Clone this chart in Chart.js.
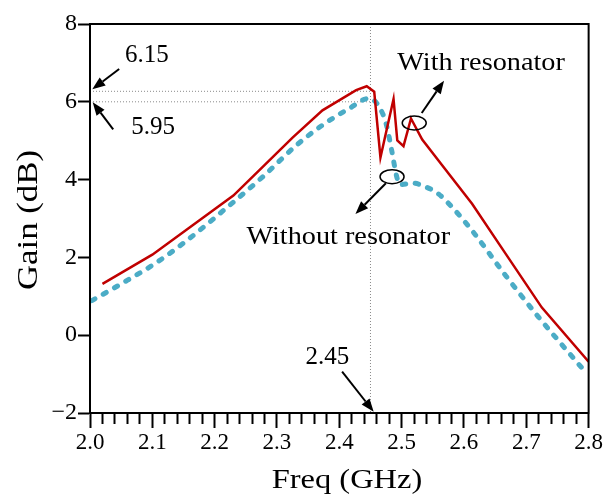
<!DOCTYPE html>
<html>
<head>
<meta charset="utf-8">
<script src="https://cdn.jsdelivr.net/npm/chart.js@4.4.0/dist/chart.umd.min.js"></script>
<style>
  html, body { margin: 0; padding: 0; background: #fff; }
  #wrap { width: 604px; height: 499px; }
</style>
</head>
<body>
<div id="wrap"><canvas id="gainChart" width="604" height="499"></canvas></div>
<script>
// gain with the resonator (solid red)
const freqWith = [2.02, 2.10, 2.23, 2.28, 2.325, 2.373, 2.427, 2.444, 2.456, 2.466, 2.487, 2.493, 2.503, 2.515, 2.533, 2.56, 2.613, 2.667, 2.725, 2.80];
const gainWith = [1.32, 2.07, 3.59, 4.37, 5.08, 5.78, 6.30, 6.40, 6.26, 4.57, 6.07, 5.01, 4.86, 5.57, 5.03, 4.47, 3.38, 2.09, 0.71, -0.68];

// gain without the resonator (dashed blue)
const freqWithout = [2.003, 2.048, 2.107, 2.155, 2.224, 2.277, 2.331, 2.373, 2.416, 2.448, 2.464, 2.475, 2.485, 2.491, 2.497, 2.517, 2.539, 2.56, 2.581, 2.613, 2.667, 2.72, 2.795];
const gainWithout = [0.89, 1.30, 1.87, 2.43, 3.34, 4.07, 4.88, 5.40, 5.83, 6.09, 5.87, 5.44, 4.67, 4.15, 3.87, 3.91, 3.81, 3.62, 3.29, 2.69, 1.53, 0.46, -0.95];

const xTickLabels = ['2.0', '2.1', '2.2', '2.3', '2.4', '2.5', '2.6', '2.7', '2.8'];
const yTickValues = [-2, 0, 2, 4, 6, 8];

// reference lines
const refFreq = 2.45;
const refGains = [6.27, 6.0];

// annotations, in data coordinates
const notes = [
  { text: '6.15', x: 2.056, y: 7.20, align: 'left', stretch: 1 },
  { text: '5.95', x: 2.066, y: 5.33, align: 'left', stretch: 1 },
  { text: '2.45', x: 2.381, y: -0.57, align: 'center', stretch: 1 },
  { text: 'With resonator', x: 2.493, y: 6.99, align: 'left', stretch: 1.13 },
  { text: 'Without resonator', x: 2.251, y: 2.52, align: 'left', stretch: 1.13 }
];
const arrows = [
  { from: [2.0468, 6.843], to: [2.0037, 6.321] },
  { from: [2.0372, 5.293], to: [2.0043, 5.987] },
  { from: [2.4045, -0.938], to: [2.4551, -1.967] },
  { from: [2.5322, 5.712], to: [2.5680, 6.542] },
  { from: [2.4747, 3.905], to: [2.4259, 3.116] }
];
const rings = [
  { x: 2.5202, y: 5.455 },
  { x: 2.4846, y: 4.075 }
];

const serif = '"Liberation Serif", "Times New Roman", serif';

function toPoints(xs, ys) {
  return xs.map((x, i) => ({ x: x, y: ys[i] }));
}

function isMajor(v) {
  return Math.abs(v * 10 - Math.round(v * 10)) < 1e-6;
}

// text drawn a bit wider, the original uses a broad serif face
function wideText(ctx, text, x, y, stretch) {
  ctx.save();
  ctx.translate(x, y);
  ctx.scale(stretch, 1);
  ctx.fillText(text, 0, 0);
  ctx.restore();
}

function drawArrow(ctx, x1, y1, x2, y2) {
  const ang = Math.atan2(y2 - y1, x2 - x1);
  const len = 13, half = 5;
  const bx = x2 - len * Math.cos(ang), by = y2 - len * Math.sin(ang);
  ctx.beginPath();
  ctx.moveTo(x1, y1);
  ctx.lineTo(bx, by);
  ctx.stroke();
  ctx.beginPath();
  ctx.moveTo(x2, y2);
  ctx.lineTo(bx + half * Math.sin(ang), by - half * Math.cos(ang));
  ctx.lineTo(bx - half * Math.sin(ang), by + half * Math.cos(ang));
  ctx.closePath();
  ctx.fill();
}

const annotate = {
  id: 'annotate',
  beforeDatasetsDraw(chart) {
    const ctx = chart.ctx, xs = chart.scales.x, ys = chart.scales.y, area = chart.chartArea;
    const px = xs.getPixelForValue(refFreq);
    ctx.save();
    ctx.strokeStyle = '#8a8a8a';
    ctx.lineWidth = 1;
    ctx.setLineDash([1, 2]);
    ctx.beginPath();
    ctx.moveTo(px, area.top);
    ctx.lineTo(px, area.bottom);
    refGains.forEach(g => {
      const py = ys.getPixelForValue(g);
      ctx.moveTo(area.left, py);
      ctx.lineTo(px, py);
    });
    ctx.stroke();
    ctx.restore();
  },
  afterDatasetsDraw(chart) {
    const ctx = chart.ctx, xs = chart.scales.x, ys = chart.scales.y, area = chart.chartArea;
    ctx.save();
    // frame
    ctx.strokeStyle = '#000';
    ctx.lineWidth = 2;
    ctx.strokeRect(area.left, area.top, area.right - area.left, area.bottom - area.top);

    // arrows
    ctx.fillStyle = '#000';
    ctx.lineWidth = 2;
    arrows.forEach(a => {
      drawArrow(ctx, xs.getPixelForValue(a.from[0]), ys.getPixelForValue(a.from[1]),
        xs.getPixelForValue(a.to[0]), ys.getPixelForValue(a.to[1]));
    });

    // rings
    ctx.lineWidth = 1.5;
    rings.forEach(r => {
      ctx.beginPath();
      ctx.ellipse(xs.getPixelForValue(r.x), ys.getPixelForValue(r.y), 12, 7, 0, 0, Math.PI * 2);
      ctx.stroke();
    });

    // labels
    ctx.font = '25px ' + serif;
    ctx.textBaseline = 'middle';
    notes.forEach(n => {
      ctx.textAlign = n.align;
      wideText(ctx, n.text, xs.getPixelForValue(n.x), ys.getPixelForValue(n.y), n.stretch);
    });

    // axis titles
    ctx.textBaseline = 'alphabetic';
    ctx.textAlign = 'center';
    ctx.font = '28px ' + serif;
    wideText(ctx, 'Freq (GHz)', 347, 488, 1.16);
    ctx.font = '30px ' + serif;
    ctx.translate(37, 220);
    ctx.rotate(-Math.PI / 2);
    wideText(ctx, 'Gain (dB)', 0, 0, 1.16);
    ctx.restore();
  }
};

const ctx = document.getElementById('gainChart').getContext('2d');
const gainChart = new Chart(ctx, {
  type: 'line',
  data: {
    datasets: [{
      label: 'With resonator',
      data: toPoints(freqWith, gainWith),
      borderColor: '#C00000',
      borderWidth: 2.5,
      pointRadius: 0,
      tension: 0
    }, {
      label: 'Without resonator',
      data: toPoints(freqWithout, gainWithout),
      borderColor: '#4BACC6',
      borderWidth: 5,
      borderDash: [3.5, 9.5],
      borderCapStyle: 'round',
      pointRadius: 0,
      cubicInterpolationMode: 'monotone'
    }]
  },
  options: {
    responsive: false,
    animation: false,
    devicePixelRatio: 1,
    layout: { padding: { top: 24, right: 13, left: 0, bottom: 0 } },
    plugins: { legend: { display: false }, tooltip: { enabled: false } },
    scales: {
      x: {
        type: 'linear',
        min: 2.0,
        max: 2.8,
        afterFit: s => { s.height = 86; },
        border: { color: '#000', width: 2 },
        grid: {
          drawOnChartArea: false,
          tickLength: 15,
          tickColor: '#000',
          tickWidth: 2,
          tickBorderDash: c => isMajor(c.tick.value) ? [] : [10, 40]
        },
        ticks: {
          stepSize: 0.02,
          autoSkip: false,
          maxRotation: 0,
          padding: 1,
          color: '#000',
          font: { family: serif, size: 23 },
          callback: v => {
            const lbl = v.toFixed(1);
            return isMajor(v) && xTickLabels.includes(lbl) ? lbl : '';
          }
        }
      },
      y: {
        min: -2,
        max: 8,
        afterFit: s => { s.width = 90; },
        afterBuildTicks: s => { s.ticks = yTickValues.map(v => ({ value: v })); },
        border: { color: '#000', width: 2 },
        grid: { drawOnChartArea: false, tickLength: 12, tickColor: '#000', tickWidth: 2 },
        ticks: {
          padding: 1,
          color: '#000',
          font: { family: serif, size: 24 },
          callback: v => v < 0 ? '\u2212' + Math.abs(v) : String(v)
        }
      }
    }
  },
  plugins: [annotate]
});
</script>
</body>
</html>
